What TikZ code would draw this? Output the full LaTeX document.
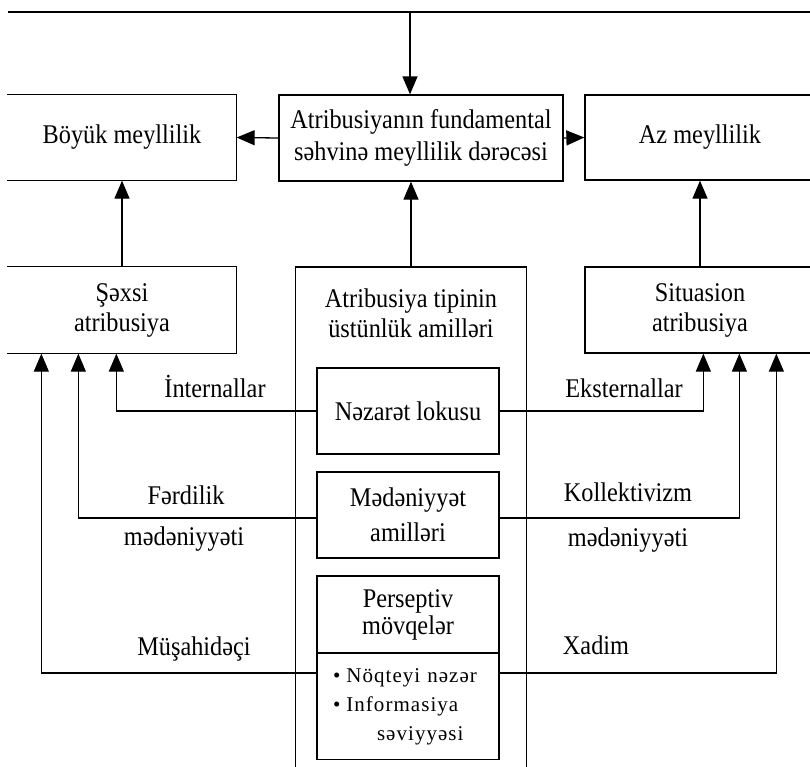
\documentclass[tikz,border=0pt]{standalone}
\usepackage{fontspec}
\setmainfont{Liberation Serif}
\newfontfamily\narrowfont[FakeStretch=0.9]{Liberation Serif}
\newfontfamily\listfont[LetterSpace=5]{Liberation Serif}
\usetikzlibrary{arrows.meta}

\begin{document}
\begin{tikzpicture}[x=1pt,y=-1pt,
  line width=1.3pt,
  txt/.style={font=\narrowfont\fontsize{27}{30}\selectfont, align=center, inner sep=0pt},
  box/.style={txt, draw, minimum height=86pt},
  plainbox/.style={txt, minimum height=86pt},
  lbl/.style={font=\narrowfont\fontsize{27}{30}\selectfont, inner sep=0pt, anchor=base},
  arr/.style={-{Triangle[length=18pt,width=15pt]}}]

\useasboundingbox (0,0) rectangle (810,766);

% incoming line along the top
\coordinate (topL) at (8,12);
\coordinate (topR) at (815,12);
\coordinate (topM) at (410,12);
\draw (topL) -- (topR);

% upper row
\node[plainbox, minimum width=228pt, minimum height=85pt] (boy) at (122,137.5) {Böyük meyllilik};
\draw (boy.north west) -- (boy.north east) -- (boy.south east) -- (boy.south west);
\node[box, minimum width=284pt, font=\narrowfont\fontsize{27}{32}\selectfont] (fund) at (421,138)
  {Atribusiyanın fundamental\\səhvinə meyllilik dərəcəsi};
\node[box, minimum width=230pt, minimum height=85pt] (az) at (700,137.5) {Az meyllilik};

% middle row
\node[plainbox, minimum width=228pt] (sx) at (122,310) {Şəxsi\\atribusiya};
\draw (sx.north west) -- (sx.north east) -- (sx.south east) -- (sx.south west);
\node[box, minimum width=230pt] (sit) at (700,310) {Situasion\\atribusiya};

% open frame of the factors column
\node[minimum width=230pt, minimum height=520pt, inner sep=0pt, anchor=north] (big) at (411,267) {};
\draw (big.south west) -- (big.north west) -- (big.north east) -- (big.south east);
\node[txt] (bigtxt) at (411,313) {Atribusiya tipinin\\üstünlük amilləri};

% factor boxes
\node[box, minimum width=182pt] (nez) at (408,411) {Nəzarət lokusu};
\node[box, minimum width=182pt, font=\narrowfont\fontsize{27}{35}\selectfont] (med) at (408,515) {Mədəniyyət\\amilləri};
\node[box, minimum width=182pt, minimum height=77pt, font=\narrowfont\fontsize{27}{27}\selectfont] (perHead) at (408,614.5) {Perseptiv\\mövqelər};
\node[draw, anchor=north, minimum height=106pt, text width=150pt, inner xsep=16pt, inner ysep=0pt,
  align=left, font=\listfont\fontsize{21}{29}\selectfont] (perList) at (408,653)
  {\textbullet\hspace{6pt}Nöqteyi nəzər\\\textbullet\hspace{6pt}Informasiya\\\hspace*{44pt}səviyyəsi};

% links between the rows
\draw[arr] (topM) -- (topM |- fund.north);
\draw[arr] (fund.west) -- (boy.east);
\draw[arr] (fund.east) -- (az.west);
\draw[arr] (sx.north) -- (boy.south);
\draw[arr] (big.north) -- (big.north |- fund.south);
\draw[arr] (sit.north) -- (az.south);

% factors feeding the two attribution types
\draw[arr] (nez.west) -| ([xshift=109pt]sx.south west);
\draw[arr] ([yshift=-3pt]med.west) -| ([xshift=71pt]sx.south west);
\draw[arr] ([yshift=-20pt]perList.north west) -| ([xshift=34pt]sx.south west);
\draw[arr] (nez.east) -| ([xshift=119pt]sit.south west);
\draw[arr] ([yshift=-3pt]med.east) -| ([xshift=155pt]sit.south west);
\draw[arr] ([yshift=-20pt]perList.north east) -| ([xshift=192pt]sit.south west);

% connector labels
\node[lbl] (lIn) at (215,397) {İnternallar};
\node[lbl] (lEx) at (624,397) {Eksternallar};
\node[lbl] (lFe) at (186,504) {Fərdilik};
\node[lbl] (lMl) at (184,545) {mədəniyyəti};
\node[lbl] (lKo) at (628,501) {Kollektivizm};
\node[lbl] (lMr) at (628,546) {mədəniyyəti};
\node[lbl] (lMu) at (194,655) {Müşahidəçi};
\node[lbl] (lXa) at (596,654) {Xadim};
\end{tikzpicture}
\end{document}
